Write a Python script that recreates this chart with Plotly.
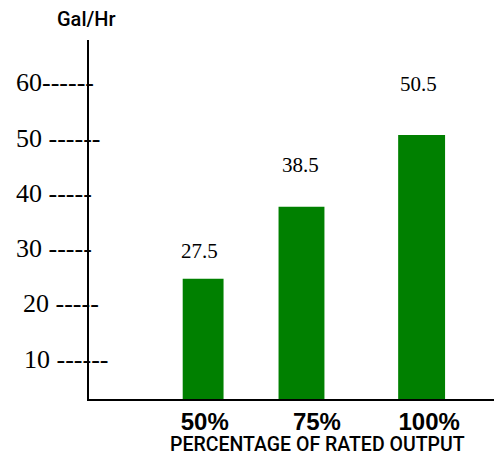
import plotly.graph_objects as go

# ---- data ----
categories = ["50%", "75%", "100%"]
bar_heights = [25.1, 38.1, 51.1]          # heights as drawn against the y scale
value_labels = ["27.5", "38.5", "50.5"]   # printed values above bars
tick_values = [60, 50, 40, 30, 20, 10]
tick_texts = ["60------", "50 ------", "40 -----", "30 -----", "20 -----", "10 ------"]
y_title = "Gal/Hr"
x_title = "PERCENTAGE OF RATED OUTPUT"

# ---- styling / placement ----
PLOT_L, PLOT_T, W, H = 89, 40, 494, 456
bar_offsets = [-0.196, -0.342, -0.276]
bar_widths = [0.364, 0.409, 0.418]
label_xshift = [-5, -16.5, -11]
label_yshift = [14, 28, 37]
tick_start_px = [15, 15, 15, 15, 22, 23]

fig = go.Figure()
fig.add_trace(go.Bar(
    x=categories, y=bar_heights,
    offset=bar_offsets, width=bar_widths,
    marker=dict(color="#008000", line=dict(width=0)),
    hoverinfo="skip",
))

serif = "Liberation Serif, Times New Roman, serif"
sans = "Liberation Sans, Arial, sans-serif"
medium = "Roboto, Liberation Sans, Arial, sans-serif"

annotations = []
for cat, h, lab, xs, ys in zip(categories, bar_heights, value_labels, label_xshift, label_yshift):
    annotations.append(dict(x=cat, y=h, xref="x", yref="y", text=lab, showarrow=False,
                            xanchor="center", yanchor="bottom", xshift=xs, yshift=ys,
                            font=dict(family=serif, size=21, color="black")))
for v, t, sx in zip(tick_values, tick_texts, tick_start_px):
    annotations.append(dict(x=0, y=v, xref="paper", yref="y", text=t, showarrow=False,
                            xanchor="left", yanchor="middle", xshift=sx - PLOT_L - 1, yshift=3,
                            font=dict(family=serif, size=26, color="black")))
annotations.append(dict(x=0, y=1, xref="paper", yref="paper", text=y_title,
                        showarrow=False, xanchor="center", yanchor="middle", xshift=-3, yshift=21,
                        font=dict(family=medium, size=20, color="black", weight=500)))
annotations.append(dict(x=(317 - PLOT_L) / (W - PLOT_L), y=0, xref="paper", yref="paper", text=x_title,
                        showarrow=False, xanchor="center", yanchor="middle", yshift=-45, borderpad=0,
                        font=dict(family=medium, size=19.5, color="black", weight=500)))

fig.update_layout(
    width=W, height=H,
    margin=dict(l=PLOT_L, r=0, t=PLOT_T, b=57, pad=0),
    paper_bgcolor="white", plot_bgcolor="white",
    showlegend=False,
    annotations=annotations,
    xaxis=dict(type="category", range=[-1.031, 2.578], showgrid=False, zeroline=False,
               showline=True, linecolor="black", linewidth=2, ticks="",
               tickfont=dict(family=sans, size=24, color="black", weight="bold")),
    yaxis=dict(range=[3.31, 68.31], showgrid=False, zeroline=False, showline=True,
               linecolor="black", linewidth=2, ticks="", showticklabels=False),
)

fig.write_html("out.html", config={"displayModeBar": False},
               post_script="document.body.style.margin='0';document.body.style.overflow='hidden';")
